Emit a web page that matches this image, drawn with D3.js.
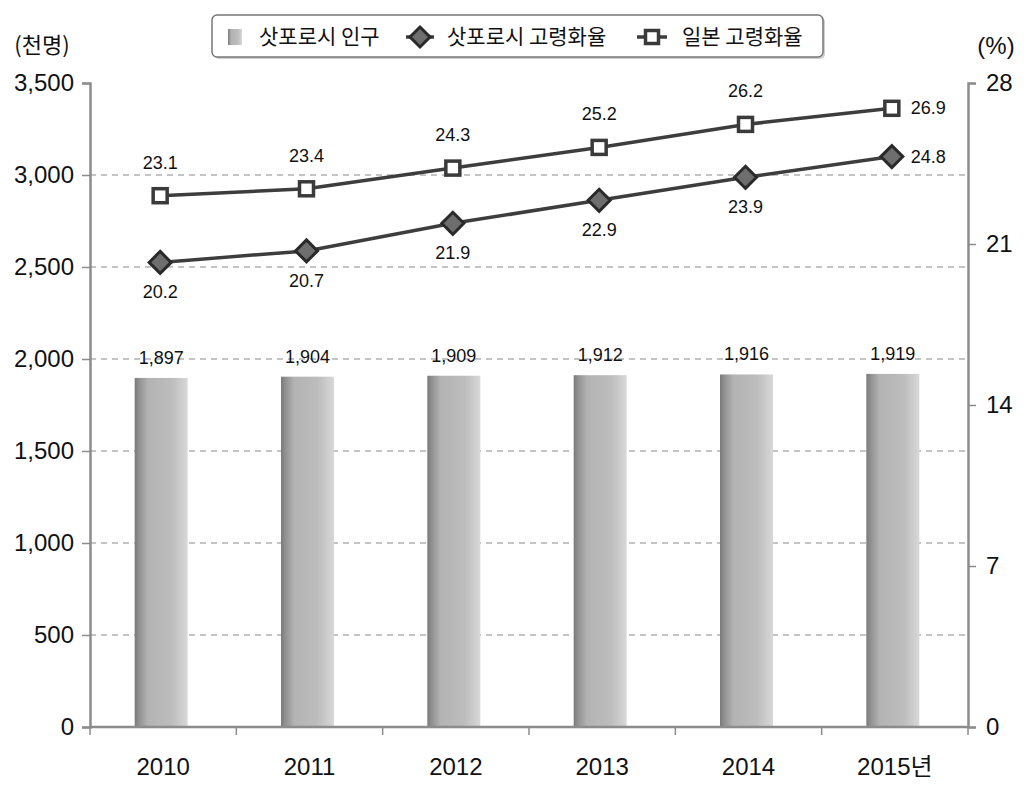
<!DOCTYPE html>
<html><head><meta charset="utf-8">
<script src="https://cdn.jsdelivr.net/npm/d3@7"></script>
<style>
body{margin:0;background:#fff;}
svg{display:block;font-family:"Liberation Sans","Noto Sans CJK KR",sans-serif;}
.kr{font-family:"Noto Sans CJK KR","Noto Sans",sans-serif;}
</style></head>
<body><svg id="c" width="1024" height="798"></svg>
<script>
const years = ["2010","2011","2012","2013","2014","2015년"];
const population = [1897,1904,1909,1912,1916,1919];
const sapporoRate = [20.2,20.7,21.9,22.9,23.9,24.8];
const japanRate = [23.1,23.4,24.3,25.2,26.2,26.9];
const leftTicks = [0,500,1000,1500,2000,2500,3000,3500];
const rightTicks = [0,7,14,21,28];
const legendLabels = ["삿포로시 인구","삿포로시 고령화율","일본 고령화율"];

const svg = d3.select("#c");
const L=90,R=968,T=83,B=727;
const x = d3.scaleBand().domain(years).range([L,R]).paddingInner(0).paddingOuter(0);
const yL = d3.scaleLinear().domain([0,3500]).range([B,T]);
const yR = d3.scaleLinear().domain([0,28]).range([B,T]);

const defs = svg.append("defs");
const g = defs.append("linearGradient").attr("id","bar").attr("x1","0").attr("x2","1").attr("y1","0").attr("y2","0");
[[0,"#7a7a7a"],[0.08,"#909090"],[0.25,"#b3b3b3"],[0.7,"#bdbdbd"],[0.88,"#cdcdcd"],[1,"#d8d8d8"]].forEach(s=>g.append("stop").attr("offset",s[0]).attr("stop-color",s[1]));

// gridlines
svg.append("g").selectAll("line").data(leftTicks.filter(d=>d>0&&d<3500)).join("line")
  .attr("x1",L).attr("x2",R).attr("y1",d=>yL(d)).attr("y2",d=>yL(d))
  .attr("stroke","#8a8a8a").attr("stroke-width",1.2).attr("stroke-dasharray","6,5");

// bars
const bw = 53;
svg.append("g").selectAll("rect").data(population).join("rect")
  .attr("x",(d,i)=>x(years[i])+x.bandwidth()/2-bw/2-2).attr("width",bw)
  .attr("y",d=>yL(d)).attr("height",d=>B-yL(d)).attr("fill","url(#bar)");
svg.append("g").selectAll("text").data(population).join("text")
  .attr("x",(d,i)=>x(years[i])+x.bandwidth()/2-2).attr("y",d=>yL(d)-14)
  .attr("text-anchor","middle").attr("font-size",18).attr("fill","#111")
  .text(d=>d3.format(",")(d));

// axes
const axL = svg.append("g").attr("transform",`translate(${L},0)`).call(d3.axisLeft(yL).tickValues(leftTicks).tickFormat(d3.format(",")).tickSize(8).tickPadding(8));
const axR = svg.append("g").attr("transform",`translate(${R},0)`).call(d3.axisRight(yR).tickValues(rightTicks).tickSize(8).tickPadding(10));
const axB = svg.append("g").attr("transform",`translate(0,${B})`).call(d3.axisBottom(x).tickSize(0).tickPadding(31));
[axL,axR,axB].forEach(a=>{a.select(".domain").attr("stroke","#8c8c8c").attr("stroke-width",2.5);
  a.selectAll(".tick line").attr("stroke","#8c8c8c").attr("stroke-width",1.5);
  a.selectAll("text").attr("font-size",24).attr("fill","#111").attr("font-family","'Liberation Sans','Noto Sans CJK KR',sans-serif");});
axB.select(".domain").attr("d",`M${L},0H${R}`);
// category separators ticks
svg.append("g").selectAll("line").data(years.slice(1)).join("line")
  .attr("x1",d=>x(d)).attr("x2",d=>x(d)).attr("y1",B).attr("y2",B+8).attr("stroke","#8c8c8c").attr("stroke-width",1.5);
svg.append("line").attr("x1",L).attr("x2",L).attr("y1",B).attr("y2",B+8).attr("stroke","#8c8c8c").attr("stroke-width",1.5);
svg.append("line").attr("x1",R).attr("x2",R).attr("y1",B).attr("y2",B+8).attr("stroke","#8c8c8c").attr("stroke-width",1.5);

svg.append("text").attr("class","kr").attr("x",42).attr("y",53).attr("text-anchor","middle").attr("font-size",22).attr("fill","#111").text("(천명)");
svg.append("text").attr("x",996).attr("y",54).attr("text-anchor","middle").attr("font-size",24).attr("fill","#111").text("(%)");

const cx = i=>x(years[i])+x.bandwidth()/2-3;
const line = d3.line().x((d,i)=>cx(i));

svg.append("path").datum(japanRate).attr("d",line.y(d=>yR(d))).attr("fill","none").attr("stroke","#3d3d3d").attr("stroke-width",3.5);
svg.append("path").datum(sapporoRate).attr("d",line.y(d=>yR(d))).attr("fill","none").attr("stroke","#3d3d3d").attr("stroke-width",3.5);

svg.append("g").selectAll("rect").data(japanRate).join("rect")
  .attr("x",(d,i)=>cx(i)-7).attr("y",d=>yR(d)-7).attr("width",14).attr("height",14)
  .attr("fill","#fff").attr("stroke","#3a3a3a").attr("stroke-width",3.5);
svg.append("g").selectAll("path").data(sapporoRate).join("path")
  .attr("d",(d,i)=>{const X=cx(i),Y=yR(d),r=11;return `M${X},${Y-r}L${X+r},${Y}L${X},${Y+r}L${X-r},${Y}Z`;})
  .attr("fill","#6e6e6e").attr("stroke","#2a2a2a").attr("stroke-width",3);

// data labels
svg.append("g").selectAll("text").data(japanRate).join("text")
  .attr("x",(d,i)=>i===5?cx(i)+19:cx(i)).attr("y",(d,i)=>i===5?yR(d)+6:yR(d)-27)
  .attr("text-anchor",(d,i)=>i===5?"start":"middle").attr("font-size",18).attr("fill","#111").text(d=>d.toFixed(1));
svg.append("g").selectAll("text").data(sapporoRate).join("text")
  .attr("x",(d,i)=>i===5?cx(i)+19:cx(i)).attr("y",(d,i)=>i===5?yR(d)+6:yR(d)+36)
  .attr("text-anchor",(d,i)=>i===5?"start":"middle").attr("font-size",18).attr("fill","#111").text(d=>d.toFixed(1));

// legend
const lg = svg.append("g");
lg.append("rect").attr("x",214).attr("y",17).attr("width",611).attr("height",42).attr("rx",5).attr("fill","#d0d0d0");
lg.append("rect").attr("x",212).attr("y",15).attr("width",611).attr("height",42).attr("rx",5).attr("fill","#fff").attr("stroke","#777").attr("stroke-width",1.5);
lg.append("rect").attr("x",228).attr("y",29).attr("width",14).attr("height",16).attr("fill","url(#bar)");
lg.append("line").attr("x1",406).attr("x2",434).attr("y1",37).attr("y2",37).attr("stroke","#3d3d3d").attr("stroke-width",3.5);
lg.append("path").attr("d","M420,27L430,37L420,47L410,37Z").attr("fill","#6e6e6e").attr("stroke","#2a2a2a").attr("stroke-width",3);
lg.append("line").attr("x1",637).attr("x2",667).attr("y1",37).attr("y2",37).attr("stroke","#3d3d3d").attr("stroke-width",3.5);
lg.append("rect").attr("x",645.5).attr("y",30.5).attr("width",13).attr("height",13).attr("fill","#fff").attr("stroke","#3a3a3a").attr("stroke-width",3.5);
const lx=[259,447,682];
lg.selectAll("text.l").data(legendLabels).join("text").attr("class","l kr")
  .attr("x",(d,i)=>lx[i]).attr("y",44).attr("font-size",21).attr("fill","#111").text(d=>d);
</script></body></html>
